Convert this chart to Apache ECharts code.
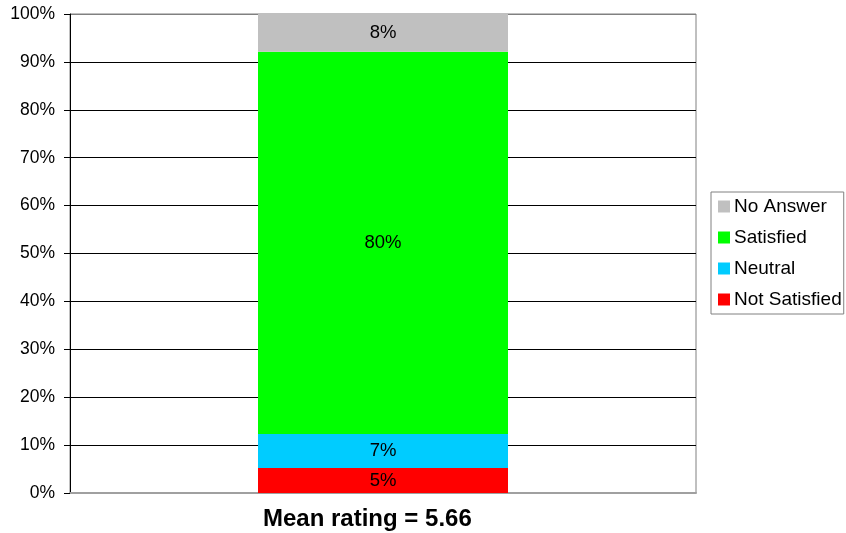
<!DOCTYPE html>
<html><head><meta charset="utf-8">
<script src="https://cdn.jsdelivr.net/npm/echarts@6/dist/echarts.min.js"></script>
<style>html,body{margin:0;padding:0;background:#fff}#c{width:846px;height:533px}</style>
</head><body><div id="c"></div>
<script>
const categories = ['Mean rating = 5.66'];
const seriesNames = ['Not Satisfied', 'Neutral', 'Satisfied', 'No Answer'];
const notSatisfied = [5.2];
const neutral = [7.1];
const satisfied = [79.8];
const noAnswer = [7.9];
const colors = ['#ff0000', '#00ccff', '#00ff00', '#c0c0c0'];
const yTicks = [0, 10, 20, 30, 40, 50, 60, 70, 80, 90, 100];

const chart = echarts.init(document.getElementById('c'));
const font = 'Liberation Sans, Arial, sans-serif';
const values = [notSatisfied, neutral, satisfied, noAnswer];
const gridColors = yTicks.map((v, i) => i === yTicks.length - 1 ? '#808080' : '#000');
chart.setOption({
  animation: false,
  textStyle: { fontFamily: font },
  title: {
    text: categories[0], left: 258, top: 502,
    textStyle: { fontSize: 24, fontWeight: 'bold', color: '#000', fontFamily: font }
  },
  grid: { left: 70, right: 150, top: 14, bottom: 40, containLabel: false, show: true, borderColor: '#808080', borderWidth: 1 },
  legend: {
    orient: 'vertical', left: 711, top: 192,
    data: ['No Answer', 'Satisfied', 'Neutral', 'Not Satisfied'],
    icon: 'rect', itemWidth: 12, itemHeight: 12, itemGap: 12,
    textStyle: { fontSize: 19, color: '#000', fontFamily: font, padding: [0, 0, 0, -1] },
    borderColor: '#808080', borderWidth: 1, padding: [5, 2, 5, 7]
  },
  xAxis: {
    type: 'category', data: categories,
    axisLine: { lineStyle: { color: '#a0a0a0', width: 2 } },
    axisTick: { show: false },
    axisLabel: { show: false }
  },
  yAxis: {
    type: 'value', min: 0, max: 100, interval: 10,
    axisLine: { show: true, lineStyle: { color: '#000' } },
    axisTick: { show: true, length: 6, lineStyle: { color: '#000' } },
    axisLabel: { fontSize: 17.5, color: '#000', margin: 15, fontFamily: font, formatter: v => yTicks.includes(v) ? v + '%' : '' },
    splitLine: { lineStyle: { color: gridColors, width: 1 } }
  },
  series: seriesNames.map((n, i) => ({
    name: n, type: 'bar', stack: 'total', data: values[i],
    barWidth: 250,
    itemStyle: { color: colors[i] },
    label: { show: true, position: 'inside', fontSize: 18.5, color: '#000', fontFamily: font, formatter: p => Math.round(p.value) + '%' }
  }))
});
</script></body></html>
